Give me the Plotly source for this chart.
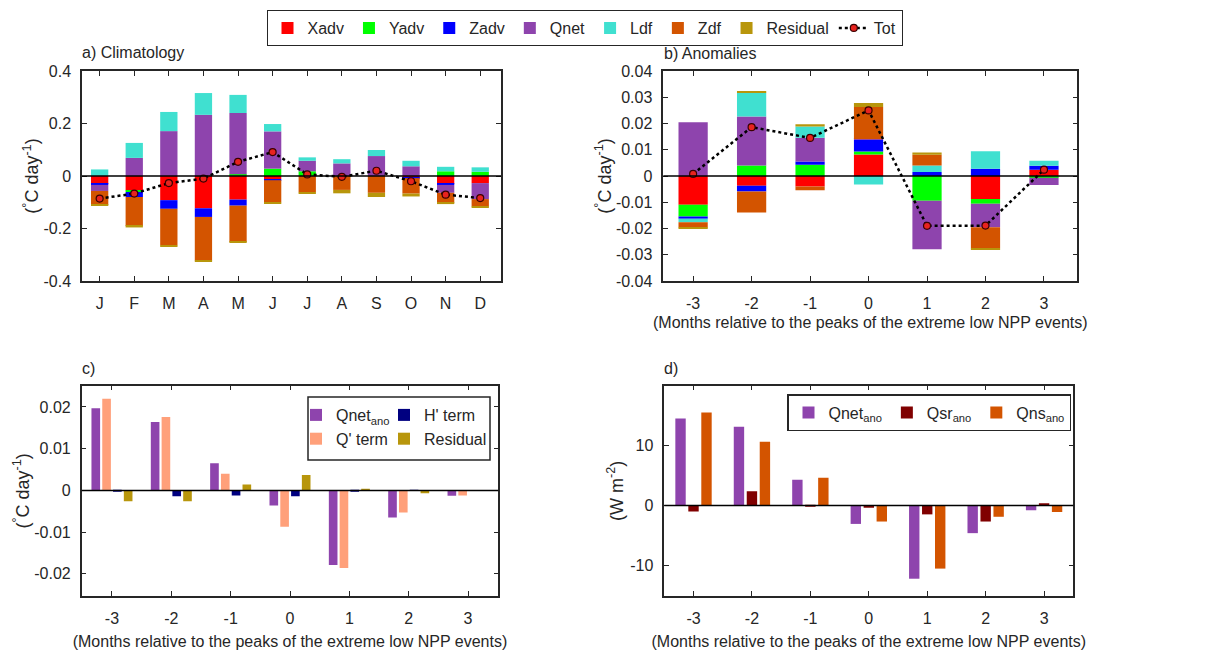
import numpy as np
import plotly.graph_objects as go

# ---------------- data ----------------
months = list(range(1, 13))
month_labels = ["J", "F", "M", "A", "M", "J", "J", "A", "S", "O", "N", "D"]
lags = [-3, -2, -1, 0, 1, 2, 3]
lag_labels = ["-3", "-2", "-1", "0", "1", "2", "3"]

# a) Climatology (degC/day)
xadv_a = [-0.030, -0.055, -0.092, -0.123, -0.090, -0.012, 0.0, 0.0, 0.0, -0.005, -0.030, -0.027]
yadv_a = [0.0, -0.006, 0.0, 0.0, 0.007, 0.028, 0.018, 0.0, 0.0, 0.0, 0.018, 0.016]
zadv_a = [-0.004, -0.019, -0.033, -0.033, -0.023, -0.004, 0.0, 0.0, 0.0, -0.003, -0.004, 0.0]
qnet_a = [-0.023, 0.069, 0.171, 0.233, 0.233, 0.142, 0.040, 0.048, 0.076, 0.037, -0.030, -0.061]
ldf_a = [0.025, 0.057, 0.073, 0.083, 0.069, 0.028, 0.013, 0.016, 0.023, 0.021, 0.017, 0.017]
zdf_a = [-0.053, -0.110, -0.139, -0.166, -0.138, -0.084, -0.062, -0.053, -0.064, -0.059, -0.038, -0.028]
res_a = [-0.003, -0.006, -0.005, -0.005, -0.004, -0.003, -0.004, -0.013, -0.016, -0.011, -0.005, -0.004]
tot_a = [-0.086, -0.067, -0.027, -0.010, 0.054, 0.091, 0.006, -0.003, 0.020, -0.020, -0.071, -0.084]

# b) Anomalies (degC/day)
xadv_b = [-0.0110, -0.0037, -0.0040, 0.0082, 0.0, -0.0088, 0.0024]
yadv_b = [-0.0044, 0.0040, 0.0043, 0.0011, -0.0094, -0.0018, -0.0007]
zadv_b = [-0.0009, -0.0022, 0.0012, 0.0045, 0.0015, 0.0028, 0.0015]
qnet_b = [0.0205, 0.0187, 0.0091, 0.0003, -0.0185, -0.0089, -0.0027]
ldf_b = [-0.0013, 0.0090, 0.0043, -0.0032, 0.0025, 0.0066, 0.0019]
zdf_b = [-0.0020, -0.0080, -0.0014, 0.0122, 0.0041, -0.0080, 0.0]
res_b = [-0.0003, 0.0006, 0.0008, 0.0015, 0.0009, -0.0005, 0.0]
tot_b = [0.0008, 0.0186, 0.0145, 0.0250, -0.0190, -0.0189, 0.0024]

# c) Qnet decomposition (degC/day)
qnet_c = [0.0197, 0.0164, 0.0065, -0.0036, -0.0179, -0.0065, -0.0013]
qterm_c = [0.0220, 0.0176, 0.0040, -0.0087, -0.0186, -0.0053, -0.0012]
hterm_c = [-0.0002, -0.0014, -0.0012, -0.0014, -0.0001, 0.0001, 0.0]
res_c = [-0.0026, -0.0026, 0.0014, 0.0037, 0.0002, -0.0007, 0.0]

# d) heat flux anomalies (W m-2)
qnet_d = [14.6, 13.2, 4.3, -3.1, -12.3, -4.65, -0.8]
qsr_d = [-1.0, 2.4, -0.2, -0.4, -1.5, -2.7, 0.35]
qns_d = [15.6, 10.7, 4.65, -2.7, -10.6, -1.9, -1.1]

# tick labels
ytick_a = [-0.4, -0.2, 0, 0.2, 0.4]
ytext_a = ["-0.4", "-0.2", "0", "0.2", "0.4"]
ytick_b = [-0.04, -0.03, -0.02, -0.01, 0, 0.01, 0.02, 0.03, 0.04]
ytext_b = ["-0.04", "-0.03", "-0.02", "-0.01", "0", "0.01", "0.02", "0.03", "0.04"]
ytick_c = [-0.02, -0.01, 0, 0.01, 0.02]
ytext_c = ["-0.02", "-0.01", "0", "0.01", "0.02"]
ytick_d = [-10, 0, 10]
ytext_d = ["-10", "0", "10"]

xtitle = "(Months relative to the peaks of the extreme low NPP events)"
ytitle_t = "(<sup>°</sup>C day<sup>-1</sup>)"
ytitle_w = "(W m<sup>-2</sup>)"

# ---------------- style ----------------
C_X = "#FF0000"
C_Y = "#00FF00"
C_Z = "#0000FF"
C_Q = "#8E44AD"
C_L = "#40E0D0"
C_ZDF = "#D35400"
C_RES = "#B8960C"
C_QT = "#FFA07A"
C_H = "#000080"
C_QSR = "#800000"
FONT = "Liberation Sans, Arial, Helvetica, sans-serif"
TXT = "#262626"

fig = go.Figure()

stack_specs = [
    ("Xadv", C_X, xadv_a, xadv_b),
    ("Yadv", C_Y, yadv_a, yadv_b),
    ("Zadv", C_Z, zadv_a, zadv_b),
    ("Qnet", C_Q, qnet_a, qnet_b),
    ("Ldf", C_L, ldf_a, ldf_b),
    ("Zdf", C_ZDF, zdf_a, zdf_b),
    ("Residual", C_RES, res_a, res_b),
]
for name, col, va, vb in stack_specs:
    fig.add_trace(go.Bar(x=months, y=va, width=0.5, name=name, marker=dict(color=col, line=dict(width=0)),
                         xaxis="x", yaxis="y", legend="legend", showlegend=True))
    fig.add_trace(go.Bar(x=lags, y=vb, width=0.5, name=name, marker=dict(color=col, line=dict(width=0)),
                         xaxis="x2", yaxis="y2", showlegend=False))

tot_style = dict(mode="lines+markers",
                 line=dict(color="black", width=2.5, dash="dot"),
                 marker=dict(symbol="circle", size=7, color="#E8231E", line=dict(color="#3a0000", width=1.2)))
fig.add_trace(go.Scatter(x=months, y=tot_a, name="Tot", xaxis="x", yaxis="y", legend="legend", **tot_style))
fig.add_trace(go.Scatter(x=lags, y=tot_b, name="Tot", xaxis="x2", yaxis="y2", showlegend=False, **tot_style))

# c) grouped bars (MATLAB-style group layout for 4 series)
gw4 = min(0.8, 4 / (4 + 1.5))
lag_arr = np.array(lags, dtype=float)
c_specs = [("Qnet<sub>ano</sub>", C_Q, qnet_c, "legend2", 1),
           ("Q' term", C_QT, qterm_c, "legend2", 2),
           ("H' term", C_H, hterm_c, "legend3", 1),
           ("Residual", C_RES, res_c, "legend3", 2)]
for i, (name, col, vals, lg, rank) in enumerate(c_specs):
    off = (i - 1.5) * gw4 / 4
    fig.add_trace(go.Bar(x=lag_arr + off, y=vals, width=gw4 / 4 * 0.8, name=name,
                         marker=dict(color=col, line=dict(width=0)),
                         xaxis="x3", yaxis="y3", legend=lg, legendrank=rank))

gw3 = min(0.8, 3 / (3 + 1.5))
d_specs = [("Qnet<sub>ano</sub>", C_Q, qnet_d),
           ("Qsr<sub>ano</sub>", C_QSR, qsr_d),
           ("Qns<sub>ano</sub>", C_ZDF, qns_d)]
for i, (name, col, vals) in enumerate(d_specs):
    off = (i - 1) * gw3 / 3
    fig.add_trace(go.Bar(x=lag_arr + off, y=vals, width=gw3 / 3 * 0.8, name=name,
                         marker=dict(color=col, line=dict(width=0)),
                         xaxis="x4", yaxis="y4", legend="legend4"))

W, H = 1209, 654

def px(v):
    return v / W

def py(v):
    return 1 - v / H

axis_common = dict(showline=True, linecolor=TXT, linewidth=1.5, mirror="ticks",
                   ticks="inside", ticklen=5, tickwidth=1.2, tickcolor=TXT,
                   showgrid=False, zeroline=False, automargin=False,
                   tickfont=dict(family=FONT, size=16, color=TXT))
xax = dict(axis_common, ticklabelstandoff=7)
yax = dict(axis_common, ticklabelstandoff=6)
title_font = dict(family=FONT, size=18, color=TXT)
xtitle_font = dict(family=FONT, size=16, color=TXT)

fig.update_layout(
    width=W, height=H, margin=dict(l=0, r=0, t=0, b=0, autoexpand=False),
    paper_bgcolor="white", plot_bgcolor="white",
    barmode="relative", font=dict(family=FONT, color=TXT),
    xaxis=dict(xax, domain=[px(82), px(501)], range=[0.49, 12.6],
               tickvals=months, ticktext=month_labels, anchor="y"),
    yaxis=dict(yax, domain=[py(281), py(71)], range=[-0.4, 0.4],
               tickvals=ytick_a, ticktext=ytext_a, anchor="x",
               title=dict(text=ytitle_t, font=title_font, standoff=0)),
    xaxis2=dict(xax, domain=[px(663.3), px(1077.3)], range=[-3.51, 3.57],
                tickvals=lags, ticktext=lag_labels, anchor="y2",
                title=dict(text=xtitle, font=xtitle_font, standoff=6)),
    yaxis2=dict(yax, domain=[py(281), py(71)], range=[-0.04, 0.04],
                tickvals=ytick_b, ticktext=ytext_b, anchor="x2",
                title=dict(text=ytitle_t, font=title_font, standoff=0)),
    xaxis3=dict(xax, domain=[px(81.7), px(498.3)], range=[-3.51, 3.51],
                tickvals=lags, ticktext=lag_labels, anchor="y3",
                title=dict(text=xtitle, font=xtitle_font, standoff=10)),
    yaxis3=dict(yax, domain=[py(596), py(385.7)], range=[-0.0253, 0.0251],
                tickvals=ytick_c, ticktext=ytext_c, anchor="x3",
                title=dict(text=ytitle_t, font=title_font, standoff=0)),
    xaxis4=dict(xax, domain=[px(664.3), px(1073.3)], range=[-3.5, 3.5],
                tickvals=lags, ticktext=lag_labels, anchor="y4",
                title=dict(text=xtitle, font=xtitle_font, standoff=10)),
    yaxis4=dict(yax, domain=[py(596), py(385.7)], range=[-15.2, 20.1],
                tickvals=ytick_d, ticktext=ytext_d, anchor="x4",
                title=dict(text=ytitle_w, font=title_font, standoff=2)),
    legend=dict(orientation="h", x=px(584.5), xanchor="center", y=py(10), yanchor="top",
                bordercolor=TXT, borderwidth=1, bgcolor="white",
                font=dict(family=FONT, size=16, color=TXT), itemwidth=30,
                traceorder="normal"),
    legend2=dict(orientation="v", x=px(296), xanchor="left", y=py(398), yanchor="top",
                 borderwidth=0, bgcolor="rgba(0,0,0,0)", traceorder="normal",
                 font=dict(family=FONT, size=16, color=TXT)),
    legend3=dict(orientation="v", x=px(384), xanchor="left", y=py(398), yanchor="top",
                 borderwidth=0, bgcolor="rgba(0,0,0,0)", traceorder="normal",
                 font=dict(family=FONT, size=16, color=TXT)),
    legend4=dict(orientation="h", x=px(1071), xanchor="right", y=py(394), yanchor="top",
                 bordercolor=TXT, borderwidth=1.5, bgcolor="white",
                 font=dict(family=FONT, size=16, color=TXT)),
)

# zero lines above bars
for xr, yr in [("x", "y"), ("x2", "y2"), ("x3", "y3"), ("x4", "y4")]:
    fig.add_shape(type="line", xref=f"{xr} domain", yref=yr, x0=0, x1=1, y0=0, y1=0,
                  line=dict(color="black", width=1.5), layer="above")

# border box for panel c legend
fig.add_shape(type="rect", xref="paper", yref="paper", x0=px(308), x1=px(490), y0=py(460), y1=py(397),
              line=dict(color=TXT, width=1.5), fillcolor="white", layer="above")

label_font = dict(family=FONT, size=16, color=TXT)
for txt, xx, yy in [("a) Climatology", 80, 52), ("b) Anomalies", 662, 54), ("c)", 80, 368), ("d)", 662, 368)]:
    fig.add_annotation(text=txt, xref="paper", yref="paper", x=px(xx), y=py(yy),
                       xanchor="left", yanchor="middle", showarrow=False, font=label_font)

fig.write_html("out.html", config={"displayModeBar": False},
               post_script="document.body.style.margin='0px';document.body.style.overflow='hidden';")
